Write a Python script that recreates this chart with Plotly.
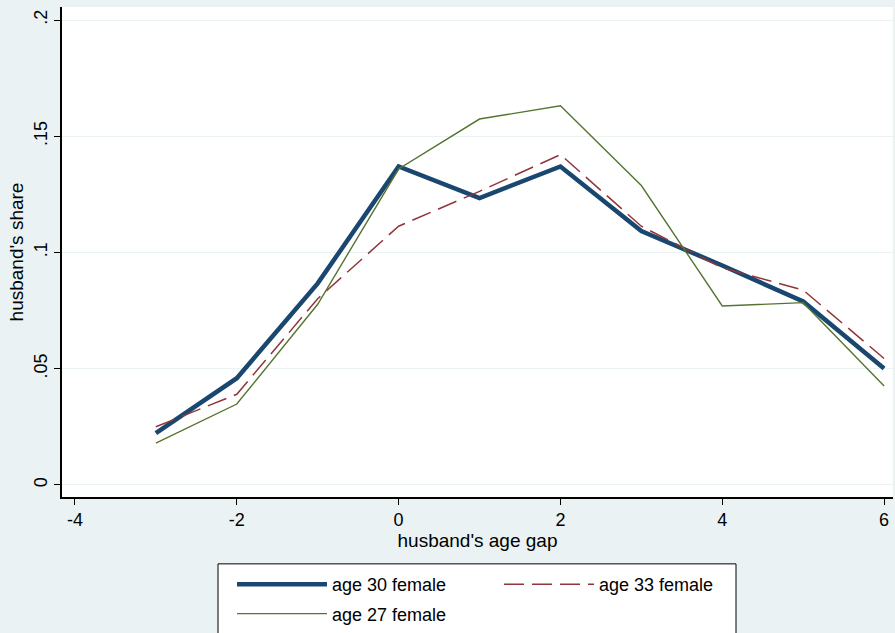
import plotly.graph_objects as go

age_gap = [-3, -2, -1, 0, 1, 2, 3, 4, 5, 6]
age30 = [0.0223, 0.0459, 0.0867, 0.1370, 0.1234, 0.1370, 0.1092, 0.0944, 0.0789, 0.0501]
age33 = [0.0250, 0.0390, 0.0801, 0.1113, 0.1263, 0.1421, 0.1113, 0.0934, 0.0838, 0.0544]
age27 = [0.0180, 0.0348, 0.0777, 0.1359, 0.1574, 0.1631, 0.1288, 0.0770, 0.0784, 0.0426]

x_ticks = [-4, -2, 0, 2, 4, 6]
y_ticks = [0, 0.05, 0.1, 0.15, 0.2]
y_labels = ["0", ".05", ".1", ".15", ".2"]

BG = "#EAF2F3"
FONT = "Liberation Sans, Arial, sans-serif"
W, H = 895, 633
L, R, T, B = 62, 2, 7, 135
pw, ph = W - L - R, H - T - B

def px_x(p):
    return (p - L) / pw

def px_y(p):
    return (H - B - p) / ph

fig = go.Figure()
fig.add_trace(go.Scatter(x=age_gap, y=age30, mode="lines", name="age 30 female", legendgroup="a30",
                         line=dict(color="#1A476F", width=4.5), legend="legend"))
fig.add_trace(go.Scatter(x=age_gap, y=age33, mode="lines", name="age 33 female", legendgroup="a33",
                         line=dict(color="#90353B", width=1.5, dash="20px,8px"), legend="legend2"))
fig.add_trace(go.Scatter(x=age_gap, y=age27, mode="lines", name="age 27 female", legendgroup="a27",
                         line=dict(color="#55752F", width=1.4), legend="legend"))

leg_common = dict(bgcolor="rgba(0,0,0,0)", borderwidth=0, orientation="v",
                  font=dict(family=FONT, size=18, color="black"),
                  itemwidth=90, tracegroupgap=3, xanchor="left", yanchor="top",
                  itemclick=False, itemdoubleclick=False)

fig.update_layout(
    width=W, height=H,
    margin=dict(l=L, r=R, t=T, b=B),
    paper_bgcolor=BG, plot_bgcolor="white",
    font=dict(family=FONT, size=18, color="black"),
    showlegend=True,
    legend=dict(x=px_x(232), y=px_y(566), **leg_common),
    legend2=dict(x=px_x(499), y=px_y(566), **leg_common),
    xaxis=dict(range=[-4.16, 6.11], tickvals=x_ticks, ticktext=[str(v) for v in x_ticks],
               showgrid=False, zeroline=False, showline=True, linecolor="black", linewidth=1.5,
               ticks="outside", ticklen=6, tickcolor="black", tickwidth=1,
               tickfont=dict(size=18), title=dict(text="husband's age gap", font=dict(size=19), standoff=4)),
    yaxis=dict(range=[-0.0052, 0.2056], tickvals=y_ticks, ticktext=y_labels, tickangle=-90,
               showgrid=True, gridcolor=BG, gridwidth=1, zeroline=False,
               showline=True, linecolor="black", linewidth=1.5,
               ticks="outside", ticklen=6, tickcolor="black", tickwidth=1,
               tickfont=dict(size=18), title=dict(text="husband's share", font=dict(size=19), standoff=2)),
    shapes=[dict(type="rect", xref="paper", yref="paper",
                 x0=px_x(218), x1=px_x(736), y0=px_y(640), y1=px_y(565),
                 line=dict(color="black", width=1), fillcolor="white", layer="above")],
)

fig.write_html("out.html", config={"displayModeBar": False})
